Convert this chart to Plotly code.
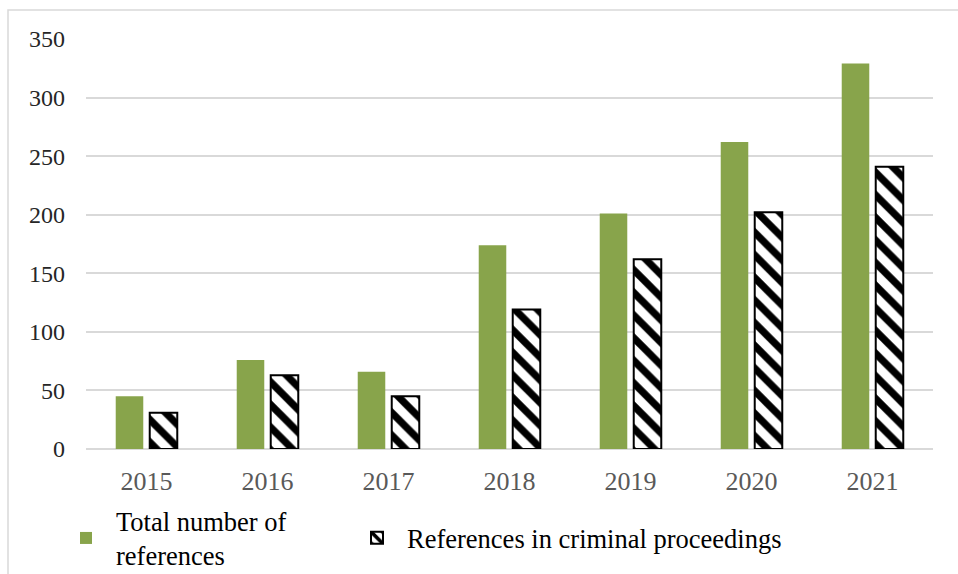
import plotly.graph_objects as go

years = ["2015", "2016", "2017", "2018", "2019", "2020", "2021"]
total_refs = [45, 76, 66, 174, 201, 262, 329]
criminal_refs = [31, 63, 45, 119, 162, 202, 241]
series_names = ["Total number of<br>references", "References in criminal proceedings"]
y_ticks = [0, 50, 100, 150, 200, 250, 300, 350]

W, H = 958, 574
ML, MR, MT, MB = 86, 25, 39, 125
pw, ph = W - ML - MR, H - MT - MB

fig = go.Figure()
fig.add_trace(go.Bar(
    x=years, y=total_refs, name=series_names[0], legend="legend",
    marker=dict(color="#88a44b", line=dict(width=0)),
))
fig.add_trace(go.Bar(
    x=years, y=criminal_refs, name=series_names[1], legend="legend2",
    marker=dict(color="white", line=dict(color="black", width=2),
                pattern=dict(shape="\\", fgcolor="black", bgcolor="white",
                             fgopacity=1, size=16, solidity=0.45)),
))

font_family = "Liberation Serif, Times New Roman, serif"
leg_y = (H - MB - 538) / ph

common_leg = dict(orientation="h", yanchor="middle", y=leg_y, xanchor="left",
                  font=dict(size=26.5, color="black"), itemwidth=50,
                  bgcolor="rgba(0,0,0,0)", valign="middle")

fig.update_layout(
    width=W, height=H,
    margin=dict(l=ML, r=MR, t=MT, b=MB, autoexpand=False),
    paper_bgcolor="white", plot_bgcolor="white",
    barmode="group", bargap=0.438, bargroupgap=0.19,
    font=dict(family=font_family, size=24, color="black"),
    showlegend=True,
    legend=dict(common_leg, x=(56 - ML) / pw),
    legend2=dict(common_leg, x=(347 - ML) / pw),
    xaxis=dict(showgrid=False, showline=False, zeroline=False, ticks="",
               tickfont=dict(size=26, color="#595959"), ticklabelstandoff=14),
    yaxis=dict(range=[0, 350], tickvals=y_ticks, showgrid=True, gridcolor="#d9d9d9",
               gridwidth=1.5, zeroline=True, zerolinecolor="#d9d9d9", zerolinewidth=1.5,
               showline=False, ticks="", tickfont=dict(size=24, color="#262626"),
               ticklabelstandoff=20),
    shapes=[dict(type="rect", xref="paper", yref="paper",
                 x0=(8 - ML) / pw, x1=(W + 5 - ML) / pw,
                 y0=-(H + 5 - MT - ph) / ph, y1=(H - MB - 10) / ph,
                 line=dict(color="#d9d9d9", width=1.5), fillcolor="rgba(0,0,0,0)",
                 layer="below")],
)

fig.write_html("out.html", config={"displayModeBar": False},
               post_script="document.body.style.margin='0px';")
